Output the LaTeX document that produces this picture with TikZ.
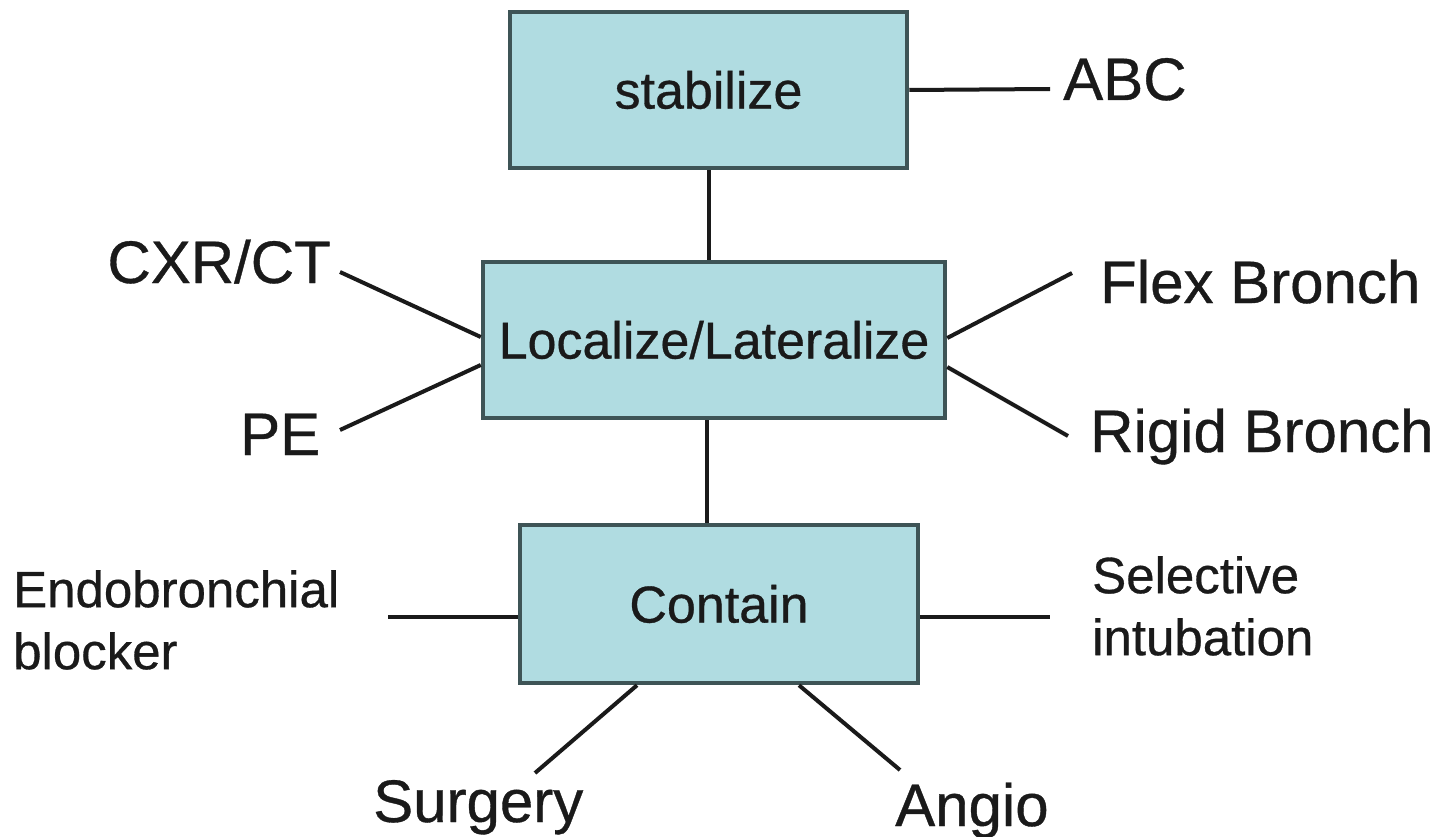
\documentclass[tikz,border=0pt]{standalone}
\usepackage{fontspec}
\setmainfont{Liberation Sans}[FakeBold=0.6]
\definecolor{boxfill}{HTML}{B0DCE1}
\definecolor{boxline}{HTML}{3E5456}
\definecolor{ink}{HTML}{1A1A1A}
\begin{document}
\begin{tikzpicture}[x=1pt,y=-1pt,
  stepbox/.style={draw=boxline, line width=4.5pt, fill=boxfill, inner sep=0pt,
    text=ink, font=\fontsize{52}{60}\selectfont},
  biglabel/.style={inner sep=0pt, text=ink, font=\fontsize{60}{70}\selectfont},
  twolabel/.style={inner sep=0pt, text=ink, align=left, font=\fontsize{51}{62}\selectfont},
  conn/.style={draw=ink, line width=4pt}]
\useasboundingbox (0,0) rectangle (1445,837);
\fill[white] (0,0) rectangle (1445,837);

% boxes
\node[stepbox, minimum width=397pt, minimum height=156pt] (stab) at (708.5,90) {stabilize};
\node[stepbox, minimum width=462pt, minimum height=156pt] (loc) at (714,340) {Localize/Lateralize};
\node[stepbox, minimum width=398pt, minimum height=158pt] (cont) at (719,604) {Contain};

% labels
\node[biglabel, anchor=base west] (abc) at (1063,100) {ABC};
\node[biglabel, anchor=base east] (cxr) at (331,283) {CXR/CT};
\node[biglabel, anchor=base west] (pe) at (240,455) {PE};
\node[biglabel, anchor=base west] (flex) at (1100,303) {Flex Bronch};
\node[biglabel, anchor=base west] (rigid) at (1090,452) {Rigid Bronch};
\node[twolabel, anchor=north west] (endo) at (13,570) {Endobronchial\\blocker};
\node[twolabel, anchor=north west] (sel) at (1092,556) {Selective\\intubation};
\node[biglabel, anchor=base west] (surg) at (373,822) {Surgery};
\node[biglabel, anchor=base west] (angio) at (895,826) {Angio};

% free ends of connectors
\coordinate (abcEnd) at (1050,89);
\coordinate (cxrEnd) at (340,272);
\coordinate (peEnd) at (340,430);
\coordinate (flexEnd) at (1072,273);
\coordinate (rigidEnd) at (1068,436);
\coordinate (endoEnd) at (388,617);
\coordinate (selEnd) at (1050,617);
\coordinate (surgEnd) at (535,773);
\coordinate (angioEnd) at (900,770);

% connectors
\draw[conn] (stab.south) -- (stab.south |- loc.north);
\draw[conn] ([xshift=-7pt]loc.south) -- ([xshift=-7pt]loc.south |- cont.north);
\draw[conn] (stab.east) -- (abcEnd);
\draw[conn] ([yshift=3pt]loc.west) -- (cxrEnd);
\draw[conn] ([yshift=-25pt]loc.west) -- (peEnd);
\draw[conn] ([yshift=2pt]loc.east) -- (flexEnd);
\draw[conn] ([yshift=-27pt]loc.east) -- (rigidEnd);
\draw[conn] ([yshift=-13pt]cont.west) -- (endoEnd);
\draw[conn] ([yshift=-13pt]cont.east) -- (selEnd);
\draw[conn] ([xshift=-82pt]cont.south) -- (surgEnd);
\draw[conn] ([xshift=80pt]cont.south) -- (angioEnd);
\end{tikzpicture}
\end{document}
